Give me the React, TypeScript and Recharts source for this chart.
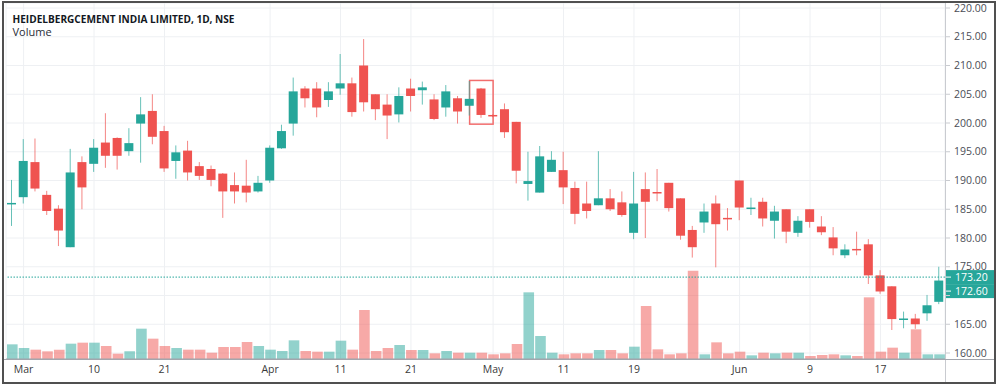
import React from 'react';
import {
  ComposedChart,
  Bar,
  XAxis,
  YAxis,
  CartesianGrid,
  ReferenceLine,
  ReferenceArea,
  Cell,
} from 'recharts';

// daily candles (NSE, 1D)
const opens = [
  185.9, 187.1, 193.2, 187.5, 185.1, 178.4, 193.2, 192.9, 196.6, 197.4,
  195.1, 199.9, 202.1, 198.6, 193.4, 195.2, 192.5, 192.0, 191.2, 189.2,
  189.1, 188.1, 190.0, 195.6, 199.9, 206.0, 206.0, 204.0, 206.0, 206.9,
  210.0, 205.0, 203.2, 201.5, 206.0, 205.7, 204.1, 202.7, 204.3, 203.0,
  206.0, 201.4, 202.4, 200.2, 189.4, 187.9, 191.5, 191.8, 188.7, 186.0,
  185.7, 186.9, 186.2, 180.9, 188.5, 188.0, 189.6, 186.9, 181.4, 182.7,
  186.0, 183.5, 190.0, 185.2, 186.3, 183.0, 185.0, 180.9, 185.0, 182.0,
  180.1, 177.0, 178.1, 178.9, 173.5, 171.6, 165.9, 166.0, 166.9, 168.9,
];
const highs = [
  190.1, 197.2, 197.3, 188.2, 185.7, 195.5, 194.2, 197.2, 201.7, 197.5,
  199.1, 204.5, 205.0, 199.5, 196.1, 196.9, 193.2, 192.6, 191.3, 191.4,
  193.6, 190.8, 196.1, 199.7, 207.9, 206.4, 207.1, 207.1, 212.0, 207.9,
  214.6, 205.0, 205.0, 206.2, 207.7, 207.2, 205.0, 206.6, 204.7, 207.3,
  206.1, 201.5, 203.4, 200.2, 195.0, 196.0, 195.1, 195.0, 189.8, 189.8,
  195.1, 188.5, 188.1, 191.5, 191.4, 192.0, 189.6, 186.9, 182.1, 186.0,
  187.4, 185.2, 190.0, 187.0, 187.0, 185.6, 185.0, 183.8, 185.0, 183.8,
  181.9, 178.9, 181.1, 179.8, 174.4, 171.6, 167.2, 166.8, 170.1, 175.0,
];
const lows = [
  182.1, 186.0, 188.1, 184.0, 178.6, 178.4, 185.0, 191.5, 192.2, 191.9,
  194.3, 193.1, 196.3, 191.5, 190.3, 190.0, 190.1, 189.0, 183.5, 186.0,
  186.2, 187.9, 189.6, 195.5, 197.8, 202.7, 201.0, 202.8, 204.9, 201.1,
  202.0, 200.5, 197.2, 200.1, 202.0, 203.2, 200.5, 201.1, 199.9, 201.3,
  200.9, 201.0, 197.4, 189.5, 186.5, 187.9, 191.5, 185.9, 182.4, 183.4,
  185.7, 184.7, 183.7, 179.8, 180.0, 186.4, 184.6, 179.7, 176.6, 180.9,
  174.9, 181.3, 183.1, 184.0, 182.0, 179.9, 179.1, 180.2, 181.8, 180.5,
  177.0, 176.5, 177.0, 172.0, 170.3, 164.0, 164.3, 164.2, 165.6, 168.5,
];
const closes = [
  186.1, 193.4, 188.6, 184.7, 181.3, 191.4, 188.8, 195.7, 194.3, 194.3,
  196.5, 201.5, 197.6, 192.1, 194.9, 191.4, 190.8, 190.1, 188.1, 188.1,
  187.9, 189.6, 195.7, 198.6, 205.5, 204.3, 202.7, 205.5, 206.9, 201.9,
  203.6, 202.4, 201.3, 204.7, 204.7, 206.2, 200.7, 205.5, 202.0, 204.2,
  201.4, 201.2, 198.4, 191.7, 189.9, 194.2, 193.6, 188.8, 184.2, 184.7,
  186.9, 185.0, 184.0, 186.0, 186.3, 187.9, 185.2, 180.4, 178.4, 184.6,
  182.4, 183.4, 185.3, 185.3, 183.4, 184.6, 181.1, 183.0, 182.8, 181.0,
  178.2, 178.0, 178.0, 173.5, 170.7, 165.9, 166.0, 165.0, 168.3, 172.6,
];
// volume, thousands of shares
const volumes = [
  44, 33, 28, 23, 28, 46, 49, 49, 39, 16,
  23, 91, 61, 39, 33, 28, 28, 19, 36, 36,
  51, 39, 28, 24, 56, 24, 22, 22, 55, 28,
  147, 24, 33, 42, 27, 27, 17, 24, 19, 19,
  19, 14, 17, 45, 200, 69, 19, 14, 17, 17,
  27, 27, 17, 37, 159, 29, 14, 17, 265, 14,
  50, 17, 22, 11, 19, 17, 19, 19, 9, 12,
  14, 11, 9, 185, 22, 34, 19, 89, 14, 14,
];

const tickIndex = [1, 7, 13, 22, 28, 34, 41, 47, 53, 62, 68, 74];
const tickText = ['Mar', '10', '21', 'Apr', '11', '21', 'May', '11', '19', 'Jun', '9', '17'];
const priceTicks = [160, 165, 170, 175, 180, 185, 190, 195, 200, 205, 210, 215, 220];

const lineValue = 173.2;
const lastClose = 172.6;
const boxFrom = 39;
const boxTo = 41;
const boxLow = 199.8;
const boxHigh = 207.4;

const UP = '#26a69a';
const DOWN = '#ef5350';
const FONT = '"Open Sans", "Noto Sans", sans-serif';

const data = opens.map((o, i) => ({
  i,
  open: o,
  high: highs[i],
  low: lows[i],
  close: closes[i],
  volume: volumes[i],
}));

const Candle = (props: any) => {
  const { x, y, width, height, payload } = props;
  const { open, close, high, low } = payload;
  const color = close >= open ? UP : DOWN;
  const top = Math.min(y, y + height);
  const h = Math.abs(height);
  const px = (v: number) => (high === low ? top : top + ((high - v) / (high - low)) * h);
  const bodyTop = px(Math.max(open, close));
  const bodyH = Math.max(1.5, px(Math.min(open, close)) - bodyTop);
  const cx = x + width / 2;
  return (
    <g>
      <line x1={cx} x2={cx} y1={top} y2={top + h} stroke={color} strokeOpacity={0.7} />
      <rect x={x} y={bodyTop} width={width} height={bodyH} fill={color} />
    </g>
  );
};

// axis label hidden under the price tags, as on the screenshot
const PriceTick = (props: any) => {
  const { x, y, payload } = props;
  const v = payload.value;
  if (v < lineValue && lineValue - v < 5) return <g />;
  return (
    <text x={x} y={y} dy="0.355em" textAnchor="start" fontSize={10.5} fill="#4a4d55" fontFamily={FONT}>
      {v.toFixed(2)}
    </text>
  );
};

const BoxShape = (p: any) => {
  const band = p.width / (boxTo - boxFrom + 1);
  return (
    <rect
      x={p.x + band / 2}
      y={p.y}
      width={p.width - band}
      height={p.height}
      fill="none"
      stroke="#f26d6d"
      strokeWidth={1.5}
    />
  );
};

const PriceTags = (props: any) => {
  const vb = props.viewBox;
  const x = vb.x + vb.width;
  const y = vb.y;
  const h = 14;
  return (
    <g>
      <rect x={x + 1} y={y - h / 2} width={50} height={h} fill={UP} />
      <line x1={x + 1} x2={x + 6} y1={y} y2={y} stroke="#fff" />
      <text x={x + 10} y={y} dy="0.36em" fill="#fff" fontSize={10.5} fontFamily={FONT}>
        {lineValue.toFixed(2)}
      </text>
      <rect x={x + 1} y={y + h / 2} width={50} height={h} fill={UP} />
      <line x1={x + 1} x2={x + 6} y1={y + h} y2={y + h} stroke="#fff" />
      <text x={x + 10} y={y + h} dy="0.36em" fill="#fff" fontSize={10.5} fontFamily={FONT}>
        {lastClose.toFixed(2)}
      </text>
    </g>
  );
};

export default function App() {
  return (
    <div style={{ position: 'absolute', left: 0, top: 0, width: 1000, height: 385, background: '#fff' }}>
      <ComposedChart width={1000} height={385} data={data} margin={{ top: 3, right: 5, bottom: 0, left: 6 }}>
        <CartesianGrid xAxisId="price" yAxisId="price" stroke="#eef0f3" />
        <XAxis
          xAxisId="price"
          dataKey="i"
          type="category"
          ticks={tickIndex}
          interval={0}
          tickFormatter={(v: number) => tickText[tickIndex.indexOf(v)] ?? ''}
          tickLine={false}
          axisLine={{ stroke: '#a3a6ad' }}
          height={26}
          tickSize={0}
          tickMargin={7}
          tick={{ fontSize: 10.5, fill: '#3a3a3a', fontFamily: FONT }}
        />
        <XAxis xAxisId="vol" dataKey="i" type="category" hide />
        <YAxis
          yAxisId="price"
          orientation="right"
          domain={[158.957, 220.87]}
          allowDataOverflow
          ticks={priceTicks}
          interval={0}
          width={50}
          axisLine={false}
          tickLine={{ stroke: '#c9cbd0' }}
          tickSize={5}
          tickMargin={4}
          tick={<PriceTick />}
        />
        <YAxis yAxisId="vol" hide domain={[0, 1068]} />
        <Bar xAxisId="vol" yAxisId="vol" dataKey="volume" barSize={10.6} isAnimationActive={false}>
          {data.map((d) => (
            <Cell
              key={d.i}
              fill={d.close >= d.open ? 'rgba(38,166,154,0.5)' : 'rgba(239,83,80,0.5)'}
            />
          ))}
        </Bar>
        <ReferenceLine
          xAxisId="price"
          yAxisId="price"
          y={lineValue}
          stroke={UP}
          strokeDasharray="1.5 1.5"
          label={<PriceTags />}
        />
        <Bar
          xAxisId="price"
          yAxisId="price"
          dataKey={(d: any) => [d.low, d.high]}
          barSize={9}
          shape={<Candle />}
          isAnimationActive={false}
        />
        <ReferenceArea
          xAxisId="price"
          yAxisId="price"
          x1={boxFrom}
          x2={boxTo}
          y1={boxLow}
          y2={boxHigh}
          shape={<BoxShape />}
        />
      </ComposedChart>
      <svg
        width={1000}
        height={385}
        style={{ position: 'absolute', left: 0, top: 0, pointerEvents: 'none' }}
      >
        <text x={12.5} y={22.5} fontSize={11} fontWeight={700} fill="#131722" fontFamily={FONT} textLength={222} lengthAdjust="spacingAndGlyphs">
          HEIDELBERGCEMENT INDIA LIMITED, 1D, NSE
        </text>
        <text x={12.5} y={36} fontSize={11} fill="#2a2e39" fontFamily={FONT}>
          Volume
        </text>
        <line x1={945.5} x2={945.5} y1={3} y2={383} stroke="#c9cbd0" />
        <line x1={4} x2={994} y1={359.5} y2={359.5} stroke="#a3a6ad" />
        <rect x={3} y={2} width={992} height={381} fill="none" stroke="#505050" strokeWidth={2} />
      </svg>
    </div>
  );
}
